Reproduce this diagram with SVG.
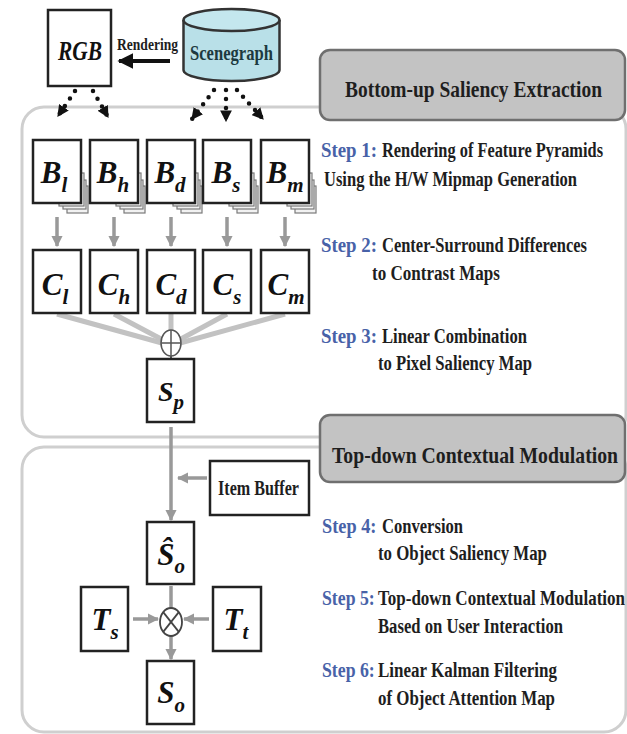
<svg xmlns="http://www.w3.org/2000/svg" xmlns:xlink="http://www.w3.org/1999/xlink" width="627" height="734" viewBox="0 0 627 734">
<style>
.panel{fill:none;stroke:#cfcfcf;stroke-width:3}
.hdr{fill:#c3c3c3;stroke:#6f6f6f;stroke-width:2.5}
.box{fill:#fff;stroke:#222;stroke-width:2.5}
.lay{fill:#f2f2f2;stroke:#7a7a7a;stroke-width:1.2}
.t{font-family:"Liberation Serif","Times New Roman",serif;font-weight:bold;fill:#1e1e1e}
.lbl{font-family:"Liberation Serif","Times New Roman",serif;font-weight:bold;font-style:italic;fill:#111;font-size:31px;text-anchor:middle}
.sub{font-size:21px}
.step{font-size:20px}
.blue{fill:#4862a8}
.hd{font-size:24px}
.dot{fill:none;stroke:#111;stroke-width:4.5;stroke-linecap:round;stroke-dasharray:0 9}
.gray{fill:none;stroke:#999;stroke-width:3.5}
.comb{fill:none;stroke:#c2c2c2;stroke-width:5}
</style>
<defs>
<marker id="ahb" viewBox="0 0 10 10" refX="9" refY="5" markerWidth="4" markerHeight="4" orient="auto" markerUnits="strokeWidth"><path d="M0,0 L10,5 L0,10 z" fill="#111"/></marker>
<marker id="ahd" viewBox="0 0 10 10" refX="9" refY="5" markerWidth="2.6" markerHeight="2.6" orient="auto" markerUnits="strokeWidth"><path d="M0,0 L10,5 L0,10 z" fill="#111"/></marker>
<marker id="ahg" viewBox="0 0 10 10" refX="9" refY="5" markerWidth="3.2" markerHeight="3.2" orient="auto" markerUnits="strokeWidth"><path d="M0,0 L10,5 L0,10 z" fill="#999"/></marker>
<g id="pyr">
<rect class="lay" x="34" y="46" width="21" height="27"/>
<rect class="lay" x="30" y="40" width="23" height="29"/>
<rect class="lay" x="26" y="33" width="25" height="33"/>
</g>
</defs>

<g id="panels">
<rect class="panel" x="22" y="107" width="604" height="330" rx="22"/>
<rect class="panel" x="22" y="447" width="604" height="285" rx="22"/>
</g>

<g id="header-bottom-up">
<rect class="hdr" x="320" y="50" width="305" height="70" rx="10"/>
<text class="t hd" transform="scale(0.8,1)" x="431.25" y="97" textLength="321.25" lengthAdjust="spacingAndGlyphs">Bottom-up Saliency Extraction</text>
</g>
<g id="header-top-down">
<rect class="hdr" x="320" y="415" width="305" height="67" rx="10"/>
<text class="t hd" transform="scale(0.8,1)" x="415" y="463" textLength="357.5" lengthAdjust="spacingAndGlyphs">Top-down Contextual Modulation</text>
</g>

<g id="steps" transform="scale(0.8,1)">
<text class="t step blue" x="401.25" y="157" textLength="70" lengthAdjust="spacingAndGlyphs">Step 1:</text>
<text class="t step" x="477.5" y="157" textLength="276.25" lengthAdjust="spacingAndGlyphs">Rendering of Feature Pyramids</text>
<text class="t step" x="405" y="186" textLength="316.25" lengthAdjust="spacingAndGlyphs">Using the H/W Mipmap Generation</text>
<text class="t step blue" x="401.25" y="252" textLength="70" lengthAdjust="spacingAndGlyphs">Step 2:</text>
<text class="t step" x="477.5" y="252" textLength="256.25" lengthAdjust="spacingAndGlyphs">Center-Surround Differences</text>
<text class="t step" x="465" y="280" textLength="160" lengthAdjust="spacingAndGlyphs">to Contrast Maps</text>
<text class="t step blue" x="401.25" y="343" textLength="70" lengthAdjust="spacingAndGlyphs">Step 3:</text>
<text class="t step" x="477.5" y="343" textLength="181.25" lengthAdjust="spacingAndGlyphs">Linear Combination</text>
<text class="t step" x="472.5" y="370" textLength="192.5" lengthAdjust="spacingAndGlyphs">to Pixel Saliency Map</text>
<text class="t step blue" x="402.5" y="533" textLength="68" lengthAdjust="spacingAndGlyphs">Step 4:</text>
<text class="t step" x="477.5" y="533" textLength="101.25" lengthAdjust="spacingAndGlyphs">Conversion</text>
<text class="t step" x="472.5" y="560" textLength="211.25" lengthAdjust="spacingAndGlyphs">to Object Saliency Map</text>
<text class="t step blue" x="402.5" y="605" textLength="66" lengthAdjust="spacingAndGlyphs">Step 5:</text>
<text class="t step" x="472.5" y="605" textLength="308.75" lengthAdjust="spacingAndGlyphs">Top-down Contextual Modulation</text>
<text class="t step" x="472.5" y="633" textLength="231.25" lengthAdjust="spacingAndGlyphs">Based on User Interaction</text>
<text class="t step blue" x="402.5" y="677" textLength="66" lengthAdjust="spacingAndGlyphs">Step 6:</text>
<text class="t step" x="472.5" y="677" textLength="223.75" lengthAdjust="spacingAndGlyphs">Linear Kalman Filtering</text>
<text class="t step" x="472.5" y="705" textLength="221.25" lengthAdjust="spacingAndGlyphs">of Object Attention Map</text>
</g>

<g id="connectors">
<line x1="170" y1="61" x2="119" y2="61" stroke="#111" stroke-width="4" marker-end="url(#ahb)"/>
<line class="dot" x1="75" y1="91" x2="58" y2="116" marker-end="url(#ahd)"/>
<line class="dot" x1="93" y1="91" x2="108" y2="117" marker-end="url(#ahd)"/>
<line class="dot" x1="214" y1="90" x2="192" y2="119" marker-end="url(#ahd)"/>
<line class="dot" x1="226" y1="90" x2="226" y2="121" marker-end="url(#ahd)"/>
<line class="dot" x1="237" y1="90" x2="263" y2="119" marker-end="url(#ahd)"/>
<line class="gray" x1="57" y1="217" x2="57" y2="246" marker-end="url(#ahg)"/>
<line class="gray" x1="114" y1="217" x2="114" y2="246" marker-end="url(#ahg)"/>
<line class="gray" x1="171" y1="217" x2="171" y2="246" marker-end="url(#ahg)"/>
<line class="gray" x1="227" y1="217" x2="227" y2="246" marker-end="url(#ahg)"/>
<line class="gray" x1="285" y1="217" x2="285" y2="246" marker-end="url(#ahg)"/>
<line class="comb" x1="57" y1="314" x2="162" y2="343"/>
<line class="comb" x1="114" y1="314" x2="163" y2="340"/>
<line class="comb" x1="171" y1="314" x2="171" y2="330" stroke-width="3"/>
<line class="comb" x1="227" y1="314" x2="179" y2="340"/>
<line class="comb" x1="285" y1="314" x2="180" y2="343"/>
<line x1="171" y1="356" x2="171" y2="359" stroke="#555" stroke-width="2"/>
<line class="gray" x1="171" y1="427" x2="171" y2="520" marker-end="url(#ahg)"/>
<line class="gray" x1="207" y1="478" x2="178" y2="478" marker-end="url(#ahg)"/>
<line class="gray" x1="171" y1="586" x2="171" y2="608"/>
<line class="gray" x1="133" y1="619" x2="158" y2="619" marker-end="url(#ahg)"/>
<line class="gray" x1="209" y1="619" x2="184" y2="619" marker-end="url(#ahg)"/>
<line class="gray" x1="171" y1="636" x2="171" y2="659" marker-end="url(#ahg)"/>
</g>

<g id="oplus">
<ellipse cx="171" cy="343" rx="10" ry="13" fill="#fff" stroke="#555" stroke-width="1.5"/>
<line x1="161" y1="343" x2="181" y2="343" stroke="#555" stroke-width="1.5"/>
<line x1="171" y1="330" x2="171" y2="356" stroke="#555" stroke-width="1.5"/>
</g>
<g id="otimes">
<ellipse cx="171" cy="622" rx="11" ry="14" fill="#fff" stroke="#444" stroke-width="1.8"/>
<line x1="163.2" y1="612.1" x2="178.8" y2="631.9" stroke="#444" stroke-width="1.8"/>
<line x1="178.8" y1="612.1" x2="163.2" y2="631.9" stroke="#444" stroke-width="1.8"/>
</g>

<g id="rgb">
<rect class="box" x="48" y="10" width="63" height="76"/>
<text class="lbl" x="80" y="60" textLength="44" lengthAdjust="spacingAndGlyphs" style="font-size:27px">RGB</text>
</g>
<text class="t" x="117" y="50" font-size="17" textLength="61" lengthAdjust="spacingAndGlyphs">Rendering</text>

<g id="scenegraph">
<path d="M183.5,20 L183.5,70 A48,11 0 0 0 279.5,70 L279.5,20" fill="#b9e0e8" stroke="#333" stroke-width="2.5"/>
<ellipse cx="231.5" cy="20" rx="48" ry="11" fill="#c4e7ee" stroke="#333" stroke-width="2.5"/>
<text class="t" x="190" y="60" font-size="22" textLength="83" lengthAdjust="spacingAndGlyphs" style="fill:#1d3a40">Scenegraph</text>
</g>

<g id="B_l"><use xlink:href="#pyr" x="33" y="140"/><rect class="box" x="33" y="140" width="48" height="63"/><text class="lbl" x="54" y="183">B<tspan class="sub" dy="9">l</tspan></text></g>
<g id="B_h"><use xlink:href="#pyr" x="90" y="140"/><rect class="box" x="90" y="140" width="48" height="63"/><text class="lbl" x="113" y="183">B<tspan class="sub" dy="9">h</tspan></text></g>
<g id="B_d"><use xlink:href="#pyr" x="147" y="140"/><rect class="box" x="147" y="140" width="48" height="63"/><text class="lbl" x="170" y="183">B<tspan class="sub" dy="9">d</tspan></text></g>
<g id="B_s"><use xlink:href="#pyr" x="203" y="140"/><rect class="box" x="203" y="140" width="48" height="63"/><text class="lbl" x="226" y="183">B<tspan class="sub" dy="9">s</tspan></text></g>
<g id="B_m"><use xlink:href="#pyr" x="261" y="140"/><rect class="box" x="261" y="140" width="48" height="63"/><text class="lbl" x="285" y="183">B<tspan class="sub" dy="9">m</tspan></text></g>

<g id="C_l"><rect class="box" x="33" y="250" width="48" height="63"/><text class="lbl" x="55" y="295">C<tspan class="sub" dy="9">l</tspan></text></g>
<g id="C_h"><rect class="box" x="90" y="250" width="48" height="63"/><text class="lbl" x="114" y="295">C<tspan class="sub" dy="9">h</tspan></text></g>
<g id="C_d"><rect class="box" x="147" y="250" width="48" height="63"/><text class="lbl" x="171" y="295">C<tspan class="sub" dy="9">d</tspan></text></g>
<g id="C_s"><rect class="box" x="203" y="250" width="48" height="63"/><text class="lbl" x="227" y="295">C<tspan class="sub" dy="9">s</tspan></text></g>
<g id="C_m"><rect class="box" x="261" y="250" width="48" height="63"/><text class="lbl" x="286" y="295">C<tspan class="sub" dy="9">m</tspan></text></g>

<g id="S_p"><rect class="box" x="147" y="359" width="47" height="63"/><text class="lbl" x="171" y="401" style="font-size:28px">S<tspan class="sub" dy="8">p</tspan></text></g>
<g id="item-buffer"><rect class="box" x="210" y="461" width="99" height="54"/><text class="t" x="218" y="495" font-size="20" textLength="81" lengthAdjust="spacingAndGlyphs">Item Buffer</text></g>
<g id="S_hat_o"><rect class="box" x="147" y="522" width="47" height="62"/><text class="lbl" x="171" y="565">Ŝ<tspan class="sub" dy="8">o</tspan></text></g>
<g id="T_s"><rect class="box" x="81" y="587" width="47" height="64"/><text class="lbl" x="105" y="630">T<tspan class="sub" dy="9">s</tspan></text></g>
<g id="T_t"><rect class="box" x="213" y="587" width="48" height="64"/><text class="lbl" x="236" y="630">T<tspan class="sub" dy="9">t</tspan></text></g>
<g id="S_o"><rect class="box" x="147" y="661" width="47" height="63"/><text class="lbl" x="171" y="703">S<tspan class="sub" dy="9">o</tspan></text></g>
</svg>
